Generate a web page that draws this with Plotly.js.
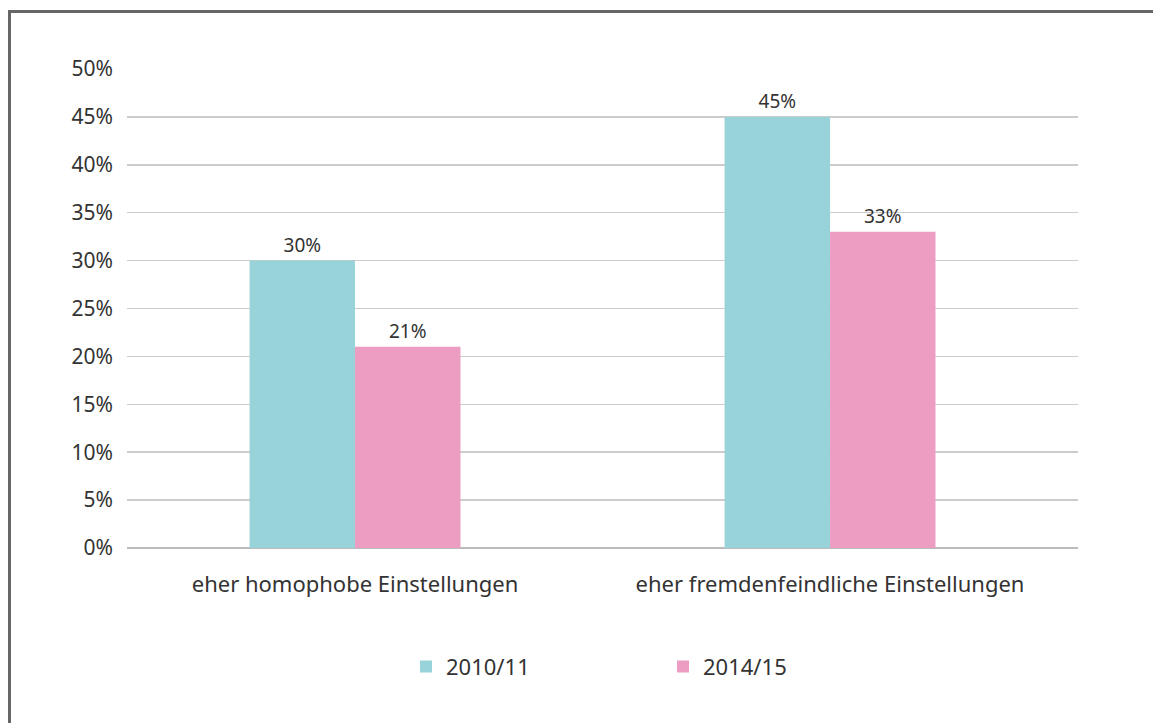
<!DOCTYPE html>
<html>
<head>
<meta charset="utf-8">
<script src="https://cdn.plot.ly/plotly-3.0.1.min.js"></script>
<style>
html,body{margin:0;padding:0;background:#fff;}
#wrap{position:relative;width:1153px;height:723px;}
#chart{position:absolute;left:0;top:0;width:1153px;height:723px;}
#frame{position:absolute;left:8px;top:10px;width:1145px;height:713px;border-left:3px solid #666;border-top:3px solid #666;box-sizing:border-box;pointer-events:none;}
</style>
</head>
<body>
<div id="wrap"><div id="chart"></div><div id="frame"></div></div>
<script>
const categories = ["eher homophobe Einstellungen", "eher fremdenfeindliche Einstellungen"];
const series2010 = [30, 45];
const series2014 = [21, 33];
const seriesNames = ["2010/11", "2014/15"];
const tickVals = [0, 5, 10, 15, 20, 25, 30, 35, 40, 45, 50];
const tickText = tickVals.map(v => v + "%");

const FONT = "Noto Sans, Open Sans, sans-serif";
const traces = [
  {type:"bar", name:seriesNames[0], x:categories, y:series2010,
   marker:{color:"#97D3D9"}, text:series2010.map(v=>v+"%"), textposition:"outside",
   textfont:{size:19,color:"#333",family:FONT}, cliponaxis:false, hoverinfo:"none"},
  {type:"bar", name:seriesNames[1], x:categories, y:series2014,
   marker:{color:"#EC9DC1"}, text:series2014.map(v=>v+"%"), textposition:"outside",
   textfont:{size:19,color:"#333",family:FONT}, cliponaxis:false, hoverinfo:"none"}
];
const layout = {
  width:1153, height:723,
  margin:{l:127, r:75, t:69, b:175},
  paper_bgcolor:"#fff", plot_bgcolor:"#fff",
  font:{family:FONT, color:"#333", size:20},
  barmode:"group", bargap:0.556, bargroupgap:0,
  showlegend:true,
  legend:{orientation:"h", x:0.2934, xanchor:"left", y:-0.248, yanchor:"middle",
          font:{size:22,color:"#333"}, entrywidth:212, itemwidth:30, traceorder:"normal"},
  xaxis:{range:[-0.48, 1.522], showgrid:false, zeroline:false, showline:false,
         ticks:"", tickfont:{size:22,color:"#333"}, ticklabelstandoff:21, fixedrange:true},
  yaxis:{range:[0,50], tickvals:tickVals, ticktext:tickText, showgrid:true,
         gridcolor:"#cccccc", gridwidth:1.5, zeroline:true, zerolinecolor:"#bbbbbb", zerolinewidth:1.5,
         showline:false, ticks:"", tickfont:{size:21,color:"#333"}, ticklabelstandoff:13, fixedrange:true}
};
Plotly.newPlot("chart", traces, layout, {displayModeBar:false, staticPlot:true});
</script>
</body>
</html>
